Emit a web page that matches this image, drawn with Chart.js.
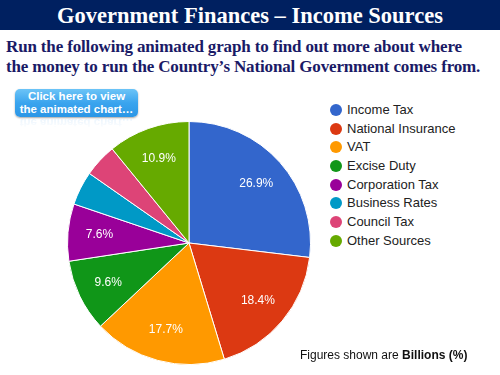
<!DOCTYPE html>
<html>
<head>
<meta charset="utf-8">
<script src="https://cdn.jsdelivr.net/npm/chart.js@4"></script>
<style>
  html, body { margin: 0; padding: 0; background: #fff; }
  #slide { position: relative; width: 500px; height: 375px; overflow: hidden; background: #fff; }
  #titlebar {
    position: absolute; left: 0; top: 0; width: 500px; height: 30px; background: #002060;
    color: #fff; font: bold 22.5px "Liberation Serif", "Times New Roman", serif;
    text-align: center; line-height: 31px;
  }
  #intro {
    position: absolute; left: 6px; top: 37px; width: 494px; white-space: nowrap;
    color: #1a1a66; font: bold 17px "Liberation Serif", "Times New Roman", serif; line-height: 20px;
    letter-spacing: -0.15px;
  }
  #btn {
    position: absolute; left: 15px; top: 89px; width: 123px; height: 28px; border-radius: 5px;
    background: linear-gradient(#6cc4f7, #3aa4ee 50%, #2b96e6);
    box-shadow: 0 1px 2px rgba(0,0,0,0.35);
    color: #fff; font: bold 11.5px "Liberation Sans", Arial, sans-serif; text-align: center; line-height: 13px;
    padding-top: 1px; box-sizing: border-box; white-space: nowrap;
  }
  #btnRefl {
    position: absolute; left: 15px; top: 118px; width: 123px; height: 11px; overflow: hidden;
    color: #d6eafb; font: bold 11.5px "Liberation Sans", Arial, sans-serif; text-align: center; line-height: 12px;
    transform: scaleY(-1); opacity: 0.55; white-space: nowrap;
    -webkit-mask-image: linear-gradient(to top, rgba(0,0,0,1), rgba(0,0,0,0));
  }
  #pieBox { position: absolute; left: 64px; top: 118px; width: 250px; height: 250px; }
  #legend { position: absolute; left: 330px; top: 102px; font: 13px "Liberation Sans", Arial, sans-serif; color: #222; }
  #legend div { height: 18.7px; line-height: 16px; white-space: nowrap; }
  #legend span.dot { display: inline-block; width: 12px; height: 12px; border-radius: 50%; vertical-align: -2px; margin-right: 5px; }
  #note { position: absolute; left: 300px; top: 348px; font: 12px "Liberation Sans", Arial, sans-serif; color: #111; }
</style>
</head>
<body>
<div id="slide">
  <div id="titlebar">Government Finances – Income Sources</div>
  <div id="intro">Run the following animated graph to find out more about where<br>the money to run the Country’s National Government comes from.</div>
  <div id="btn">Click here to view<br>the animated chart…</div>
  <div id="btnRefl">the animated chart…</div>
  <div id="pieBox"><canvas id="pie"></canvas></div>
  <div id="legend"></div>
  <div id="note">Figures shown are <b>Billions (%)</b></div>
</div>
<script>
const categories = ["Income Tax", "National Insurance", "VAT", "Excise Duty", "Corporation Tax", "Business Rates", "Council Tax", "Other Sources"];
const shares = [26.9, 18.4, 17.7, 9.6, 7.6, 4.5, 4.4, 10.9];
const colors = ["#3366cc", "#dc3912", "#ff9900", "#109618", "#990099", "#0099c6", "#dd4477", "#66aa00"];

// legend built from the same arrays
const legendEl = document.getElementById("legend");
categories.forEach((name, i) => {
  const row = document.createElement("div");
  row.innerHTML = '<span class="dot" style="background:' + colors[i] + '"></span>' + name;
  legendEl.appendChild(row);
});

// percentage labels inside the larger slices
const sliceLabels = {
  id: "sliceLabels",
  afterDatasetsDraw(chart) {
    const c = chart.ctx;
    const meta = chart.getDatasetMeta(0);
    const total = shares.reduce((a, b) => a + b, 0);
    c.save();
    c.fillStyle = "#fff";
    c.font = "12px 'Liberation Sans', Arial, sans-serif";
    c.textAlign = "center";
    c.textBaseline = "middle";
    meta.data.forEach((arc, i) => {
      const pct = shares[i] / total * 100;
      if (pct < 5) return;
      const p = arc.getProps(["x", "y", "startAngle", "endAngle", "outerRadius"], true);
      const mid = (p.startAngle + p.endAngle) / 2;
      const r = p.outerRadius * 0.74;
      c.fillText(shares[i].toFixed(1) + "%", p.x + Math.cos(mid) * r, p.y + Math.sin(mid) * r);
    });
    c.restore();
  }
};

new Chart(document.getElementById("pie"), {
  type: "pie",
  data: {
    labels: categories,
    datasets: [{
      data: shares,
      backgroundColor: colors,
      borderColor: "#ffffff",
      borderWidth: 1,
    }],
  },
  options: {
    responsive: true,
    maintainAspectRatio: false,
    animation: false,
    layout: { padding: 3 },
    plugins: { legend: { display: false }, tooltip: { enabled: false } },
  },
  plugins: [sliceLabels],
});
</script>
</body>
</html>
